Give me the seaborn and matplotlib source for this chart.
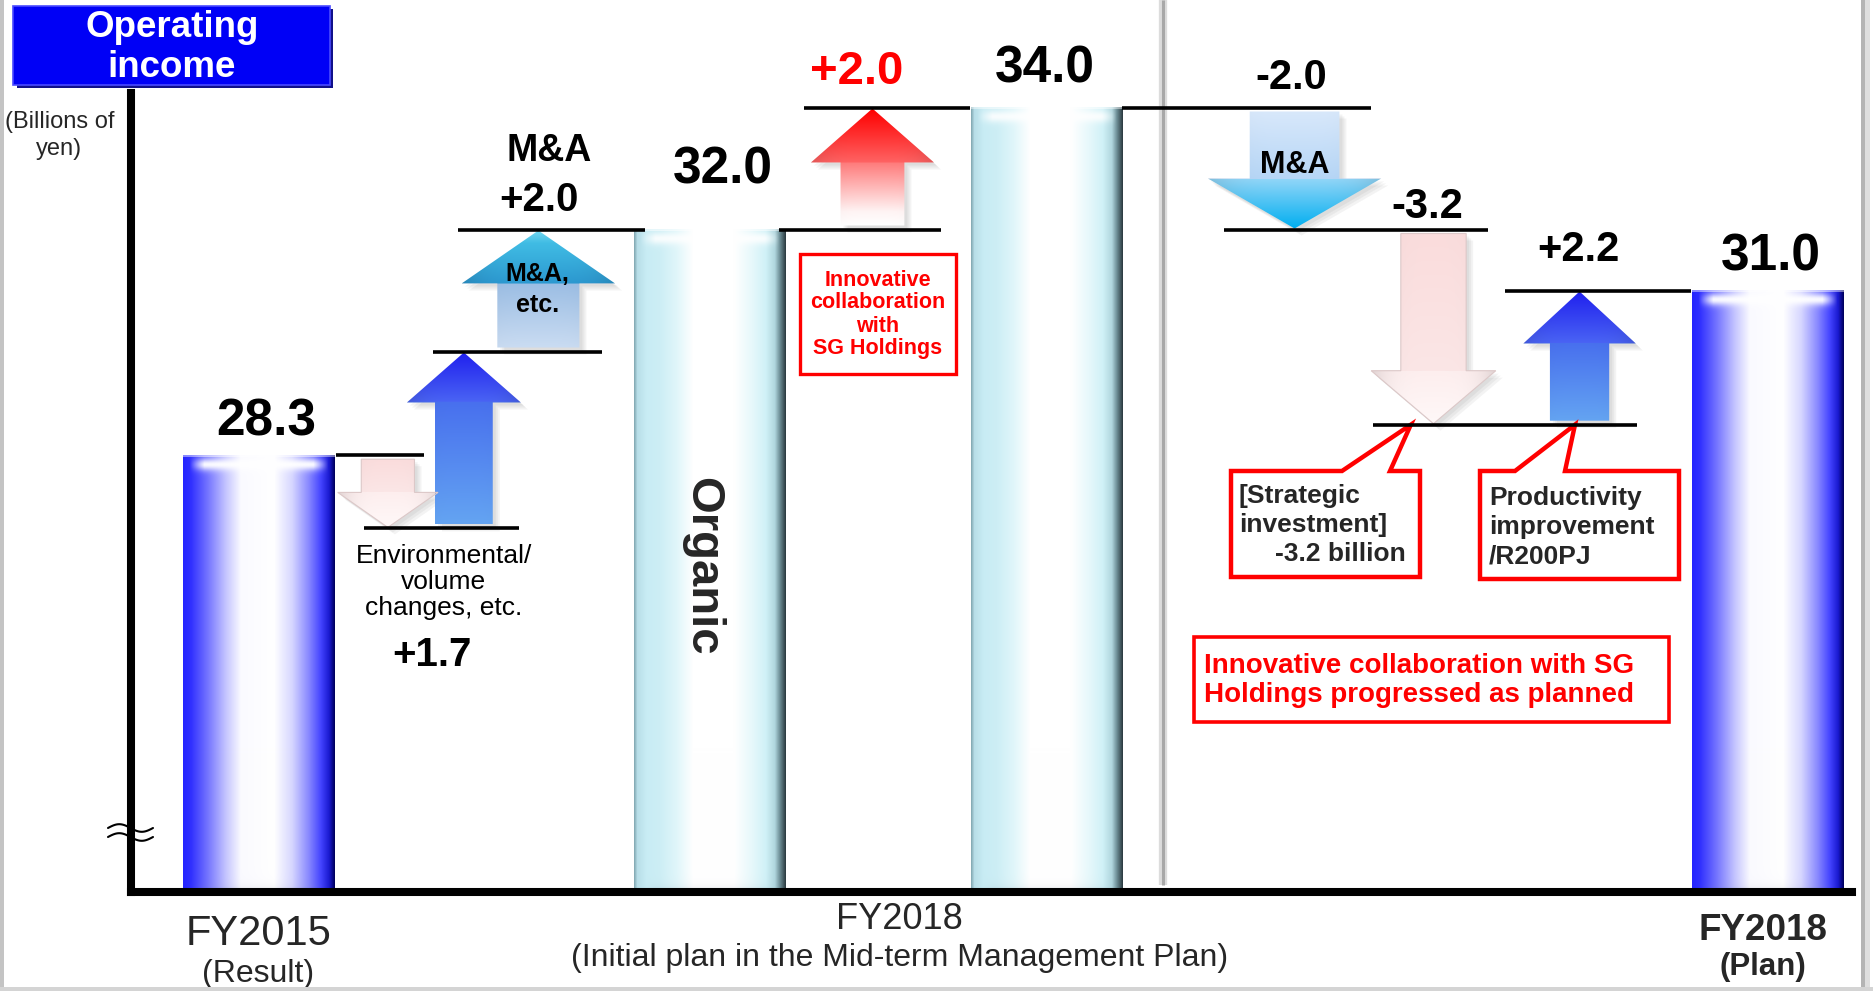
import numpy as np
import pandas as pd
import matplotlib
matplotlib.use("Agg")
import matplotlib.pyplot as plt
import matplotlib.colors as mcolors
from matplotlib.patches import Polygon, Rectangle
from matplotlib.transforms import offset_copy, blended_transform_factory
import seaborn as sns

# ---------------------------------------------------------------
# Operating income bridge (billions of yen)
# ---------------------------------------------------------------
total_names = ["FY2015 (Result)", "Organic", "FY2018 (Initial plan)", "FY2018 (Plan)"]
total_values = [28.3, 32.0, 34.0, 31.0]

step_names = ["Environmental/volume decrease", "Environmental/volume increase", "M&A, etc.",
              "Innovative collaboration with SG Holdings", "M&A", "Strategic investment",
              "Productivity improvement/R200PJ"]
step_values = [-1.2, 2.9, 2.0, 2.0, -2.0, -3.2, 2.2]

# totals (T) and changes (S) in the order they follow each other
bridge_order = ["T", "S", "S", "S", "T", "S", "T", "S", "S", "S", "T"]

axis_labels = ["FY2015", "FY2018", "FY2018"]
axis_sublabels = ["(Result)", "(Initial plan in the Mid-term Management Plan)", "(Plan)"]

# ---------------------------------------------------------------
# layout (slot units along x)
# ---------------------------------------------------------------
total_x = [0.841, 3.806, 6.025, 10.77]
total_style = ["blue", "cyan", "cyan", "blue"]
bar_w = 1.0
step_x = [1.69, 2.19, 2.68, 4.878, 7.655, 8.569, 9.53]
step_style = ["pink", "blue", "cyan", "red", "sky", "pink", "blue"]
head_w = [0.66, 0.75, 1.01, 0.81, 1.14, 0.82, 0.74]
body_w = [0.35, 0.38, 0.54, 0.42, 0.59, 0.43, 0.39]
head_px = [35, 50, 53, 54, 50, 53, 52]
# connector lines: (start/end of change, index, x from, x to)
connectors = [("s", 0, 1.35, 1.93), ("e", 0, 1.53, 2.55), ("e", 1, 1.99, 3.10),
              ("e", 2, 2.15, 3.38), ("s", 3, 4.26, 5.33), ("e", 3, 4.43, 5.52),
              ("s", 4, 6.52, 8.16), ("e", 4, 7.19, 8.93), ("e", 5, 8.17, 9.91),
              ("e", 6, 9.04, 10.26)]

# running levels of the bridge
step_start, step_end = [], []
level, ti, si = None, 0, 0
for kind in bridge_order:
    if kind == "T":
        level = total_values[ti]
        ti += 1
    else:
        step_start.append(level)
        level = level + step_values[si]
        step_end.append(level)
        si += 1

# ---------------------------------------------------------------
# figure and axes
# ---------------------------------------------------------------
sns.set_style("white")
plt.rcParams["font.family"] = ["Liberation Sans", "DejaVu Sans"]

W, H, DPI = 1874, 991, 100
fig = plt.figure(figsize=(W / DPI, H / DPI), dpi=DPI)
fig.patch.set_facecolor("white")

AX_L, AX_R, AX_T, AX_B = 131, 1852, 93, 892
SLOT_PX = 152.0
PX_PER_UNIT = 61.0
ylo = 32.0 - (AX_B - 229.5) / PX_PER_UNIT
yhi = 32.0 + (229.5 - AX_T) / PX_PER_UNIT
xmax = (AX_R - AX_L) / SLOT_PX

ax = fig.add_axes([AX_L / W, 1 - AX_B / H, (AX_R - AX_L) / W, (AX_B - AX_T) / H])
ax.patch.set_visible(False)


def set_limits():
    ax.set_xlim(0, xmax)
    ax.set_ylim(ylo, yhi)


def fpos(x, y):
    return x / W, 1 - y / H


def data_to_px(x, y):
    dx, dy = ax.transData.transform((x, y))
    return dx, H - dy


def ramp(stops, n):
    pos = np.array([p for p, _ in stops], dtype=float)
    cols = np.array([mcolors.to_rgb(c) for _, c in stops])
    t = np.linspace(0, 1, max(n, 2))
    return np.stack([np.interp(t, pos, cols[:, i]) for i in range(3)], axis=1)


BAR_STOPS = {
    "blue": [(0, "#2424ff"), (0.05, "#3030ff"), (0.16, "#7474ff"), (0.28, "#c4c4ff"),
             (0.38, "#fafaff"), (0.6, "#ffffff"), (0.72, "#d6d6ff"), (0.83, "#8888ff"),
             (0.91, "#4444ff"), (0.965, "#1a1ad0"), (1, "#000060")],
    "cyan": [(0, "#86acb6"), (0.02, "#b8dee8"), (0.08, "#c8ecf4"), (0.17, "#cdeef5"),
             (0.28, "#e0f6fa"), (0.39, "#ffffff"), (0.66, "#ffffff"), (0.78, "#e6f8fb"),
             (0.87, "#d0f1f7"), (0.93, "#b0d6de"), (0.965, "#6a8a92"), (1, "#2e3e44")],
}


def bar_image(style, wpx, hpx):
    prof = ramp(BAR_STOPS[style], wpx)
    img = np.tile(prof[None, :, :], (hpx, 1, 1))
    xs = np.linspace(0, 1, wpx)[None, :]
    t = np.arange(hpx)[:, None].astype(float)
    wx = np.clip((0.46 - np.abs(xs - 0.5)) / 0.1, 0, 1)
    glow = np.exp(-((t - 9) / 6.0) ** 2) * wx * (0.95 if style == "blue" else 0.85)
    edge = (t < 2) * 0.45
    a = np.clip(glow + edge, 0, 1)[..., None]
    img = img * (1 - a) + a
    b = hpx - 1 - t
    sh = (0.2 * np.exp(-b / 4.0) * wx)[..., None]
    img = img * (1 - sh) + np.array([0.45, 0.47, 0.55]) * sh
    return np.clip(img, 0, 1)


def arrow_stops(style, hf):
    h2 = min(hf + 0.002, 0.999)
    if style == "pink":
        return [(0, "#fadcdc"), (hf, "#fbe6e6"), (h2, "#fdeeee"), (1, "#fff8f8")]
    if style == "blue":
        return [(0, "#64a4f2"), (hf, "#4870ee"), (h2, "#4a64f4"), (1, "#2020ee")]
    if style == "cyan":
        return [(0, "#cadcf2"), (hf, "#9cbee4"), (h2, "#2c98d0"), (0.9, "#40bce4"), (1, "#70d6f0")]
    if style == "red":
        return [(0, "#ffffff"), (0.12, "#fff4f4"), (hf, "#ff7c7c"), (h2, "#ff6464"), (1, "#ff0000")]
    return [(0, "#d8e8fb"), (hf, "#b6d6f6"), (h2, "#92d6f8"), (1, "#00aef0")]


set_limits()

# ---------------------------------------------------------------
# total bars (seaborn) with cylinder shading
# ---------------------------------------------------------------
df_tot = pd.DataFrame({"pos": total_x, "value": total_values, "name": total_names})
sns.barplot(data=df_tot, x="pos", y="value", native_scale=True, errorbar=None,
            color="white", ax=ax, zorder=2)
ax.set_xlabel("")
ax.set_ylabel("")
bars = sorted(ax.patches, key=lambda p: p.get_x())
for p, c, v, style in zip(bars, total_x, total_values, total_style):
    p.set_x(c - bar_w / 2)
    p.set_width(bar_w)
    p.set_facecolor("none")
    p.set_edgecolor("none")
    wpx = int(round(bar_w * SLOT_PX))
    hpx = int(round((v - ylo) * PX_PER_UNIT))
    ax.imshow(bar_image(style, wpx, hpx), extent=(c - bar_w / 2, c + bar_w / 2, ylo, v),
              aspect="auto", interpolation="bilinear", origin="upper", zorder=2.2)

# ---------------------------------------------------------------
# change arrows
# ---------------------------------------------------------------
for i, (xc, y_s, y_e, bw, hw, hp, style) in enumerate(
        zip(step_x, step_start, step_end, body_w, head_w, head_px, step_style)):
    d = 1.0 if y_e > y_s else -1.0
    y0 = y_s + d * 4 / PX_PER_UNIT
    y1 = y_e - d * 1 / PX_PER_UNIT
    hl = hp / PX_PER_UNIT
    yb = y1 - d * hl
    verts = [(xc - bw / 2, y0), (xc + bw / 2, y0), (xc + bw / 2, yb), (xc + hw / 2, yb),
             (xc, y1), (xc - hw / 2, yb), (xc - bw / 2, yb)]
    # soft drop shadow
    for k in range(3):
        off = offset_copy(ax.transData, fig=fig, x=3 + 2 * k, y=-(3 + 2 * k), units="dots")
        ax.add_patch(Polygon(verts, closed=True, transform=off, fc="#303030", ec="none",
                             alpha=0.055, zorder=2.6))
    clip = Polygon(verts, closed=True, fc="none", ec="none", zorder=2.7)
    ax.add_patch(clip)
    L = abs(y1 - y0)
    hf = 1 - hl / L
    wpx = int(round(hw * SLOT_PX)) + 1
    hpx = int(round(L * PX_PER_UNIT)) + 1
    col = ramp(arrow_stops(style, hf), hpx)
    if d > 0:
        col = col[::-1]
    img = np.tile(col[:, None, :], (1, wpx, 1))
    xs = np.linspace(-1, 1, wpx)[None, :, None]
    img = np.clip(img * (1 - 0.12 * np.abs(xs) ** 4), 0, 1)
    im = ax.imshow(img, extent=(xc - hw / 2, xc + hw / 2, min(y0, y1), max(y0, y1)),
                   aspect="auto", interpolation="bilinear", origin="upper", zorder=2.8)
    im.set_clip_path(clip)
    if style == "pink":
        ax.add_patch(Polygon(verts, closed=True, fc="none", ec="#dcc8c8", lw=0.8, zorder=2.9))

# connector lines
for which, idx, x0, x1 in connectors:
    yv = step_start[idx] if which == "s" else step_end[idx]
    ax.hlines(yv, x0, x1, color="black", lw=2.6, zorder=4)

set_limits()

# ---------------------------------------------------------------
# axes styling
# ---------------------------------------------------------------
ax.set_xticks([])
ax.set_yticks([])
for side in ("top", "right"):
    ax.spines[side].set_visible(False)
for side in ("left", "bottom"):
    ax.spines[side].set_color("black")
    ax.spines[side].set_linewidth(5.8)
    ax.spines[side].set_capstyle("projecting")
    ax.spines[side].set_zorder(5)

# divider between the initial plan and the current plan
trans_div = blended_transform_factory(ax.transData, ax.transAxes)
div_x = 6.79
ax.plot([div_x, div_x], [(AX_B - 885) / (AX_B - AX_T), AX_B / (AX_B - AX_T)],
        transform=trans_div, color="#dcdcdc", lw=6, clip_on=False, zorder=0.5,
        solid_capstyle="butt")
ax.plot([div_x, div_x], [(AX_B - 885) / (AX_B - AX_T), AX_B / (AX_B - AX_T)],
        transform=trans_div, color="#a8a8a8", lw=2.2, clip_on=False, zorder=0.6,
        solid_capstyle="butt")

# axis break mark
xw = np.linspace(108, 153, 60)
for yc in (828, 837):
    yw = yc - 3.8 * np.sin(2 * np.pi * (xw - 108) / 45)
    fig.add_artist(plt.Line2D(xw / W, 1 - yw / H, color="black", lw=1.5,
                              transform=fig.transFigure, zorder=10))

# ---------------------------------------------------------------
# value labels
# ---------------------------------------------------------------
def label(x, y, s, dx, dy, size, color="black", weight="bold"):
    ax.annotate(s, xy=(x, y), xytext=(dx, dy), textcoords="offset pixels",
                ha="center", va="baseline", fontsize=size, color=color,
                fontweight=weight, annotation_clip=False, zorder=7)


total_offsets = [(7, 20), (13, 46.5), (-1.5, 25.5), (3, 20)]
for c, v, (dx, dy) in zip(total_x, total_values, total_offsets):
    label(c, v, f"{v:.1f}", dx, dy, 37)

# environmental / volume changes (net of the two arrows)
env_net = step_values[0] + step_values[1]
env_x = (step_x[0] + step_x[1]) / 2
label(env_x, step_end[0], "Environmental/", 18, -35, 19, weight="normal")
label(env_x, step_end[0], "volume", 18, -61, 19, weight="normal")
label(env_x, step_end[0], "changes, etc.", 18, -87, 19, weight="normal")
label(env_x, step_end[0], f"{env_net:+.1f}", 6, -138, 29)

# M&A, etc.
label(step_x[2], step_end[2], "M&A", 11, 69, 27)
label(step_x[2], step_end[2], f"{step_values[2]:+.1f}", 1, 19, 29)
label(step_x[2], step_end[2], "M&A,", -1, -51, 18)
label(step_x[2], step_end[2], "etc.", -1, -82, 18)

# SG Holdings collaboration
label(step_x[3], step_end[3], f"{step_values[3]:+.1f}", -15.5, 24, 34, color="#ff0000")

# M&A decrease
label(step_x[4], step_start[4], f"{step_values[4]:+.1f}", -3, 19, 30)
label(step_x[4], step_start[4], "M&A", 0, -65, 22)

# strategic investment / productivity
label(step_x[5], step_start[5], f"{step_values[5]:+.1f}", -6, 12, 30)
label(step_x[6], step_end[6], f"{step_values[6]:+.1f}", -1.5, 30, 30)

# Organic
ax.text(total_x[1] - 0.05, 1 - 566 / H, "Organic",
        transform=blended_transform_factory(ax.transData, fig.transFigure),
        rotation=-90, ha="center", va="center", fontsize=34, fontweight="bold", zorder=7)

# ---------------------------------------------------------------
# boxes and callouts
# ---------------------------------------------------------------
def ftext(x, y, s, **kw):
    ax.text(x / W, 1 - y / H, s, transform=fig.transFigure, clip_on=False, zorder=8, **kw)


def fbox(x0, y0, x1, y1, **kw):
    r = Rectangle(fpos(x0, y1), (x1 - x0) / W, (y1 - y0) / H, transform=fig.transFigure,
                  clip_on=False, **kw)
    ax.add_patch(r)


# collaboration box
fbox(800, 254, 956, 374, fc="white", ec="#ff0000", lw=2.4, zorder=3.5)
for s, yb in zip(["Innovative", "collaboration", "with", "SG Holdings"], [286, 308.5, 331.5, 354]):
    ftext(877.7, yb, s, ha="center", va="baseline", fontsize=15.5, fontweight="bold", color="#ff0000")


def callout(box, tail, tip):
    x0, x1, y0, y1 = box
    tx, ty = data_to_px(*tip)
    pts = [(x0, y0), (tail[0], y0), (tx, ty), (tail[1], y0), (x1, y0), (x1, y1), (x0, y1)]
    ax.add_patch(Polygon([fpos(*p) for p in pts], closed=True, transform=fig.transFigure,
                         fc="white", ec="#ff0000", lw=3.2, joinstyle="miter",
                         clip_on=False, zorder=3.5))


callout((1231, 1420, 471, 577), (1342, 1390), (8.42, step_end[5]))
callout((1480, 1679, 471, 579), (1515, 1565), (9.50, step_end[5]))

for s, xl, yb in zip(["[Strategic", "investment]", f"{step_values[5]:.1f} billion"],
                     [1239, 1239, 1275], [503, 532, 561]):
    ftext(xl, yb, s, ha="left", va="baseline", fontsize=19, fontweight="bold")
for s, yb in zip(["Productivity", "improvement", "/R200PJ"], [505, 534, 563]):
    ftext(1489, yb, s, ha="left", va="baseline", fontsize=19, fontweight="bold")

# progress note
fbox(1194, 637, 1669, 722, fc="white", ec="#ff0000", lw=2.6, zorder=3.5)
ftext(1203.5, 673, "Innovative collaboration with SG", ha="left", va="baseline",
      fontsize=20, fontweight="bold", color="#ff0000")
ftext(1203.5, 702, "Holdings progressed as planned", ha="left", va="baseline",
      fontsize=20, fontweight="bold", color="#ff0000")

# ---------------------------------------------------------------
# title, unit, category labels
# ---------------------------------------------------------------
fbox(17, 9, 333, 88, fc="#10108a", ec="none", zorder=3.4)
fbox(13, 6, 330, 85, fc="#0000f6", ec="#4a4aff", lw=1.2, zorder=3.5)
ftext(172, 37, "Operating", ha="center", va="baseline", fontsize=26.5, fontweight="bold", color="white")
ftext(172, 77, "income", ha="center", va="baseline", fontsize=26.5, fontweight="bold", color="white")

ftext(60, 128, "(Billions of", ha="center", va="baseline", fontsize=17)
ftext(59, 155, "yen)", ha="center", va="baseline", fontsize=17)

ftext(258.5, 945, axis_labels[0], ha="center", va="baseline", fontsize=30)
ftext(258.5, 982, axis_sublabels[0], ha="center", va="baseline", fontsize=23)
ftext(899, 929, axis_labels[1], ha="center", va="baseline", fontsize=26)
ftext(899.5, 966, axis_sublabels[1], ha="center", va="baseline", fontsize=23)
ftext(1762.6, 940, axis_labels[2], ha="center", va="baseline", fontsize=26.5, fontweight="bold")
ftext(1762.6, 975, axis_sublabels[2], ha="center", va="baseline", fontsize=22.5, fontweight="bold")

# slide frame
fig.add_artist(Rectangle((0, 0), 4 / W, 1, transform=fig.transFigure, fc="#c4c4c4", ec="none"))
fig.add_artist(Rectangle((1861 / W, 0), 4 / W, 1, transform=fig.transFigure, fc="#b4b4b4", ec="none"))
fig.add_artist(Rectangle((1865 / W, 0), 5 / W, 1, transform=fig.transFigure, fc="#dedede", ec="none"))
fig.add_artist(Rectangle((0, 0), 1, 4 / H, transform=fig.transFigure, fc="#d4d4d4", ec="none"))

set_limits()
fig.savefig("out.png", dpi=DPI, facecolor="white")
